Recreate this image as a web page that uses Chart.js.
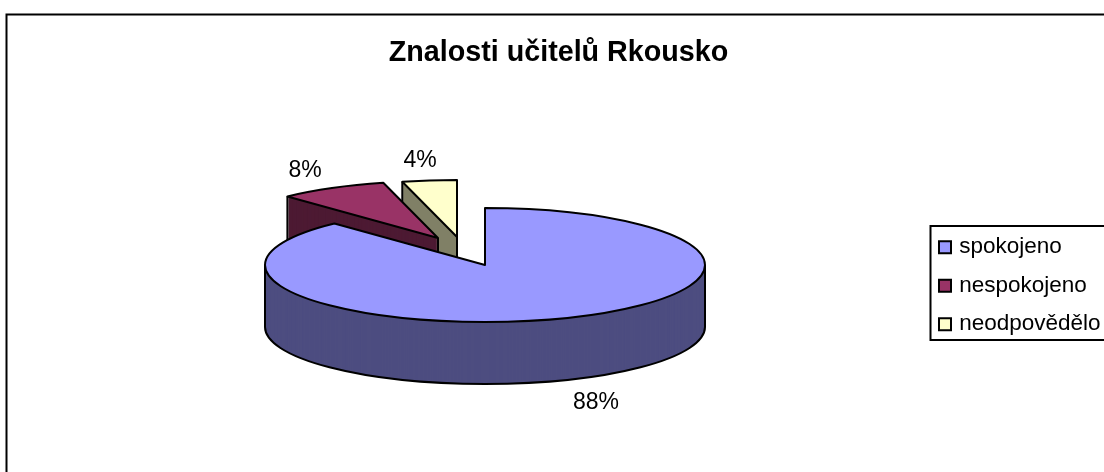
<!DOCTYPE html>
<html>
<head>
<meta charset="utf-8">
<style>html,body{margin:0;padding:0;background:#fff;overflow:hidden}canvas{display:block}</style>
<script src="https://cdn.jsdelivr.net/npm/chart.js@4"></script>
</head>
<body>
<canvas id="c" width="1104" height="472"></canvas>
<script>
const titleText = 'Znalosti učitelů Rkousko';
const categories = ['spokojeno', 'nespokojeno', 'neodpovědělo'];
const values = [88, 8, 4];
const topColors = ['#9999FF', '#993366', '#FFFFCC'];
const wallColors = ['#4D4D80', '#4D1A33', '#808066'];

const FONT = '"Liberation Sans", Arial, sans-serif';
const view = {cx: 485, cy: 265, rx: 220, ry: 57, depth: 62};
const explode = [[0, 0], [-47, -27], [-28, -28]];
const labelAt = [[596, 403], [305, 171], [420, 161]];
const drawOrder = [2, 1, 0];

function wedge(ctx, el, i, shift) {
  const r = el.outerRadius;
  ctx.save();
  ctx.translate(view.cx + explode[i][0], view.cy + explode[i][1] + shift);
  ctx.scale(view.rx / r, view.ry / r);
  ctx.beginPath();
  ctx.moveTo(0, 0);
  ctx.arc(0, 0, r, el.startAngle, el.endAngle);
  ctx.closePath();
  ctx.restore();
}
function rim(ctx, el, i, shift, a0, a1) {
  const r = el.outerRadius;
  ctx.save();
  ctx.translate(view.cx + explode[i][0], view.cy + explode[i][1] + shift);
  ctx.scale(view.rx / r, view.ry / r);
  ctx.beginPath();
  ctx.arc(0, 0, r, a0, a1);
  ctx.restore();
}
function pt(el, i, a) {
  return [view.cx + explode[i][0] + Math.cos(a) * view.rx,
          view.cy + explode[i][1] + Math.sin(a) * view.ry];
}
function vline(ctx, p) {
  ctx.beginPath();
  ctx.moveTo(p[0], p[1]);
  ctx.lineTo(p[0], p[1] + view.depth);
  ctx.stroke();
}

const tiltedPie = {
  id: 'tiltedPie',
  afterLayout(chart) {
    const lg = chart.legend;
    lg.left = 926; lg.right = 1140; lg.top = 220; lg.bottom = 472;
    const tb = chart.titleBlock;
    tb.left = 258.5; tb.right = 858.5; tb.top = 36; tb.bottom = 70;
  },
  beforeDraw(chart) {
    const ctx = chart.ctx;
    ctx.save();
    ctx.strokeStyle = '#000';
    ctx.lineWidth = 2;
    ctx.beginPath();
    ctx.moveTo(1104, 14.5); ctx.lineTo(6.5, 14.5); ctx.lineTo(6.5, 472);
    ctx.stroke();
    ctx.beginPath();
    ctx.moveTo(1104, 226); ctx.lineTo(930.5, 226); ctx.lineTo(930.5, 340); ctx.lineTo(1104, 340);
    ctx.stroke();
    ctx.restore();
  },
  beforeDatasetDraw(chart, args) {
    const ctx = chart.ctx;
    const arcs = args.meta.data;
    ctx.save();
    ctx.lineJoin = 'round';
    ctx.strokeStyle = '#000';
    ctx.lineWidth = 2;
    drawOrder.forEach(i => {
      const el = arcs[i];
      const a0 = el.startAngle, a1 = el.endAngle;
      ctx.fillStyle = wallColors[i];
      for (let s = view.depth; s > 0; s--) { wedge(ctx, el, i, s); ctx.fill(); }
      if (a1 - a0 > Math.PI) {
        rim(ctx, el, i, view.depth, 0, Math.PI); ctx.stroke();
        vline(ctx, pt(el, i, 0));
        vline(ctx, pt(el, i, Math.PI));
      } else {
        vline(ctx, pt(el, i, a0));
        vline(ctx, [view.cx + explode[i][0], view.cy + explode[i][1]]);
      }
      wedge(ctx, el, i, 0);
      ctx.fillStyle = topColors[i];
      ctx.fill();
      ctx.stroke();
    });
    ctx.restore();
    return false;
  },
  afterDatasetsDraw(chart) {
    const ctx = chart.ctx;
    ctx.save();
    ctx.fillStyle = '#000';
    ctx.font = '23px ' + FONT;
    ctx.textAlign = 'center';
    ctx.textBaseline = 'middle';
    values.forEach((v, i) => ctx.fillText(v + '%', labelAt[i][0], labelAt[i][1]));
    ctx.restore();
  }
};

new Chart(document.getElementById('c'), {
  type: 'pie',
  data: {
    labels: categories,
    datasets: [{data: values, backgroundColor: topColors, borderColor: '#000', borderWidth: 2}]
  },
  options: {
    responsive: false,
    animation: false,
    plugins: {
      tooltip: {enabled: false},
      title: {
        display: true, text: titleText, color: '#000', padding: 0,
        font: {family: FONT, size: 28.7, weight: 'bold', lineHeight: 1.2}
      },
      legend: {
        display: true, position: 'right', align: 'start',
        labels: {
          color: '#000', padding: 16, usePointStyle: true, pointStyle: 'rect',
          boxWidth: 6, boxHeight: 12,
          font: {family: FONT, size: 22.5, lineHeight: 1}
        }
      }
    }
  },
  plugins: [tiltedPie]
});
</script>
</body>
</html>
